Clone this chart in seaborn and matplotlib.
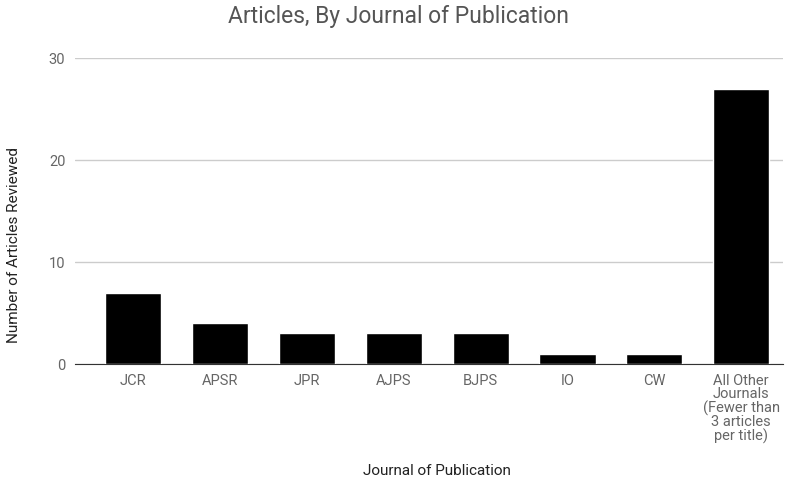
import matplotlib
matplotlib.use('Agg')
import pandas as pd
import seaborn as sns
import matplotlib.pyplot as plt

# values
journals = ['JCR', 'APSR', 'JPR', 'AJPS', 'BJPS', 'IO', 'CW',
            'All Other\nJournals\n(Fewer than\n3 articles\nper title)']
articles = [7, 4, 3, 3, 3, 1, 1, 27]
yticks = [0, 10, 20, 30]

df = pd.DataFrame({'journal': journals, 'articles': articles})

sns.set_style('white')
plt.rcParams['font.family'] = ['Roboto', 'DejaVu Sans']

fig = plt.figure(figsize=(7.96, 4.78), dpi=100)
# plot area: x 75..783 px, y 58..364 px
ax = fig.add_axes([75 / 796, (478 - 364) / 478, 708 / 796, 306 / 478])

sns.barplot(data=df, x='journal', y='articles', color='black',
            width=0.645, saturation=1, ax=ax, zorder=3)

ax.set_xlim(-0.668, 7.48)
ax.set_ylim(0, 30)
ax.set_yticks(yticks)
ax.yaxis.grid(True, color='#cccccc', linewidth=1, zorder=0)
for s in ['top', 'right', 'left']:
    ax.spines[s].set_visible(False)
ax.spines['bottom'].set_color('#333333')
ax.tick_params(axis='both', length=0, labelsize=10.5, labelcolor='#666666', pad=7)
for t in ax.get_xticklabels():
    t.set_linespacing(0.95)

fig.text(0.5, 1 - 16 / 478, 'Articles, By Journal of Publication',
         ha='center', va='center', fontsize=16.5, color='#555555')
ax.set_xlabel('Journal of Publication', fontsize=11, color='#222222')
ax.xaxis.set_label_coords((437 - 75) / 708, -(471 - 364) / 306)
ax.xaxis.label.set_va('center')
ax.set_ylabel('Number of Articles Reviewed', fontsize=11, color='#222222')
ax.yaxis.set_label_coords((14 - 75) / 708, (364 - 245) / 306)
ax.yaxis.label.set_va('center')

fig.savefig('out.png', dpi=100)
